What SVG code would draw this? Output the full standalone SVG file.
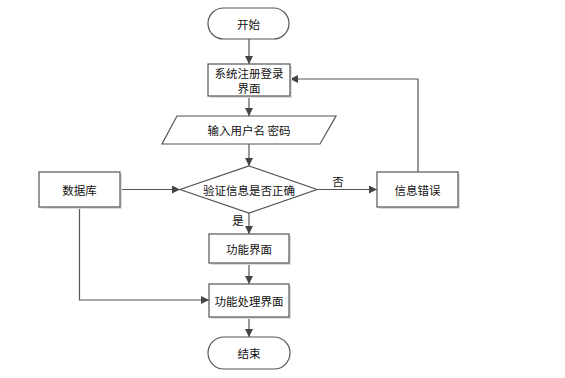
<svg xmlns="http://www.w3.org/2000/svg" width="565" height="378" viewBox="0 0 565 378">
<style>
.n{fill:#fff;stroke:#555;stroke-width:1.2}
.s{fill:#ddd;stroke:none}
.t{font-family:"Noto Sans CJK SC","Liberation Sans",sans-serif;font-size:11.5px;fill:#111;text-anchor:middle;dominant-baseline:central}
.c{fill:none;stroke:#555;stroke-width:1.2}
</style>
<defs>
<marker id="a" markerUnits="userSpaceOnUse" markerWidth="8" markerHeight="8" refX="8" refY="4" orient="auto">
<path d="M0,0 L8,4 L0,8 z" fill="#444"/>
</marker>
</defs>
<rect width="565" height="378" fill="#fff"/>
<g id="connectors">
<path class="c" d="M249,39 V64" marker-end="url(#a)"/>
<path class="c" d="M249,96 V116" marker-end="url(#a)"/>
<path class="c" d="M249,144 V166" marker-end="url(#a)"/>
<path class="c" d="M249,213 V234" marker-end="url(#a)"/>
<path class="c" d="M249,263 V284" marker-end="url(#a)"/>
<path class="c" d="M249,317 V337" marker-end="url(#a)"/>
<path class="c" d="M120,189.5 H180" marker-end="url(#a)"/>
<path class="c" d="M79.5,207 V300 H209" marker-end="url(#a)"/>
<path class="c" d="M317,189.5 H377" marker-end="url(#a)"/>
<path class="c" d="M418,172 V79 H290" marker-end="url(#a)"/>
<text class="t" x="338" y="181">否</text>
<text class="t" x="238" y="220">是</text>
</g>
<g id="start">
<rect class="n" x="208" y="8" width="81" height="31" rx="15.5"/>
<text class="t" x="248.5" y="23.5">开始</text>
</g>
<g id="register">
<rect class="s" x="210" y="66" width="82" height="32"/>
<rect class="n" x="208" y="64" width="82" height="32"/>
<text class="t" x="249" y="72.5">系统注册登录</text>
<text class="t" x="249" y="88">界面</text>
</g>
<g id="input">
<path class="n" d="M177,116 H336 L320,144 H162 Z"/>
<text class="t" x="249" y="130">输入用户名 密码</text>
</g>
<g id="verify">
<path class="n" d="M249,166 L317,189.5 L249,213 L180,189.5 Z"/>
<text class="t" x="249" y="190">验证信息是否正确</text>
</g>
<g id="database">
<rect class="s" x="41" y="174" width="81" height="35"/>
<rect class="n" x="39" y="172" width="81" height="35"/>
<text class="t" x="79.5" y="189.5">数据库</text>
</g>
<g id="error">
<rect class="s" x="379" y="174" width="81" height="35"/>
<rect class="n" x="377" y="172" width="81" height="35"/>
<text class="t" x="417.5" y="189.5">信息错误</text>
</g>
<g id="func">
<rect class="s" x="211" y="236" width="80" height="29"/>
<rect class="n" x="209" y="234" width="80" height="29"/>
<text class="t" x="249" y="248.5">功能界面</text>
</g>
<g id="process">
<rect class="s" x="211" y="286" width="80" height="33"/>
<rect class="n" x="209" y="284" width="80" height="33"/>
<text class="t" x="249" y="300.5">功能处理界面</text>
</g>
<g id="end">
<rect class="n" x="208" y="337" width="82" height="32" rx="16"/>
<text class="t" x="249" y="353">结束</text>
</g>
</svg>
